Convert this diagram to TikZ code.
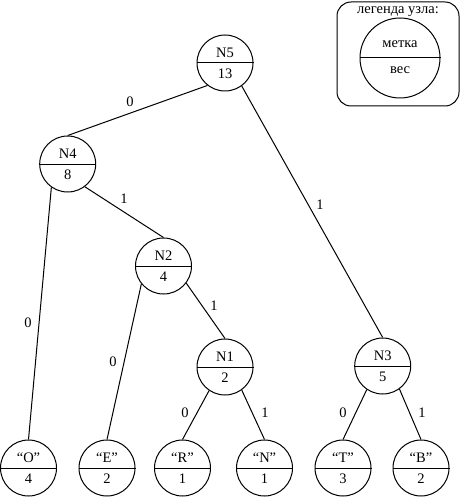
\documentclass[tikz,border=0pt]{standalone}
\usepackage{fontspec}
\setmainfont{Liberation Serif}
\usetikzlibrary{calc}
\tikzset{
  tn/.style={circle, draw, line width=1pt, minimum size=56pt, inner sep=0pt},
  ln/.style={circle, draw, line width=1pt, minimum size=80pt, inner sep=0pt},
  txt/.style={inner sep=0pt, font=\fontsize{14.5}{16}\selectfont},
  lbl/.style={inner sep=0pt, font=\fontsize{14.5}{16}\selectfont},
  edge/.style={line width=1pt},
}
\newcommand{\hnode}[4]{%
  \node[tn] (#1) at (#2) {};
  \draw[edge] (#1.west) -- (#1.east);
  \node[txt] (#1-l) at ([yshift=10.5pt]#1.center) {#3};
  \node[txt] (#1-w) at ([yshift=-10.5pt]#1.center) {#4};
}
\begin{document}
\begin{tikzpicture}[x=1pt,y=-1pt]
\useasboundingbox (0,0) rectangle (462,497);
% legend
\node[draw, rounded corners=14pt, line width=1pt, minimum width=122pt, minimum height=104pt, inner sep=0pt] (leg) at (398,54) {};
\node[txt] (legt) at (398,12) {легенда узла:};
\node[ln] (lc) at (400,58) {};
\draw[edge] (lc.west) -- (lc.east);
\node[txt] (lcl) at ([yshift=14pt]lc.center) {метка};
\node[txt] (lcw) at ([yshift=-12pt]lc.center) {вес};
% tree
\hnode{N5}{225,63}{N5}{13}
\hnode{N4}{67.7,164}{N4}{8}
\hnode{N2}{163.5,266}{N2}{4}
\hnode{N1}{225,367}{N1}{2}
\hnode{N3}{382.7,366}{N3}{5}
\hnode{O}{28.5,468}{“O”}{4}
\hnode{E}{107,468}{“E”}{2}
\hnode{R}{182.5,468}{“R”}{1}
\hnode{N}{264.5,468}{“N”}{1}
\hnode{T}{343,468}{“T”}{3}
\hnode{B}{421,468}{“B”}{2}
% edges
\draw[edge] (N5.232) -- (N4.north);
\draw[edge] (N5.306) -- (N3.north);
\draw[edge] (N4.235) -- (O.north);
\draw[edge] (N4.307) -- (N2.north);
\draw[edge] (N2.219) -- (E.north);
\draw[edge] (N2.323) -- (N1.north);
\draw[edge] (N1.236) -- (R.north);
\draw[edge] (N1.306) -- (N.north);
\draw[edge] (N3.236) -- (T.north);
\draw[edge] (N3.306) -- (B.north);
% edge labels
\node[lbl] (e1) at (130,102) {0};
\node[lbl] (e2) at (320,205) {1};
\node[lbl] (e3) at (124,199) {1};
\node[lbl] (e4) at (28,323) {0};
\node[lbl] (e5) at (113,362) {0};
\node[lbl] (e6) at (214,306) {1};
\node[lbl] (e7) at (185,413) {0};
\node[lbl] (e8) at (265,413) {1};
\node[lbl] (e9) at (343,413) {0};
\node[lbl] (e10) at (422,413) {1};
\end{tikzpicture}
\end{document}
